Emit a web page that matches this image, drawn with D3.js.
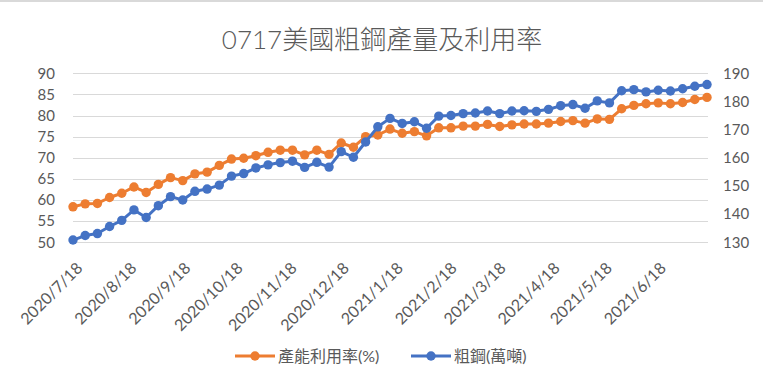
<!DOCTYPE html>
<html>
<head>
<meta charset="utf-8">
<script src="https://cdn.jsdelivr.net/npm/d3@7"></script>
<style>
  body { margin: 0; background: #fff; }
  svg { display: block; font-family: Lato, "Noto Sans CJK TC", sans-serif; }
</style>
</head>
<body>
<svg id="chart" width="763" height="385"></svg>
<script>
// weekly dates (categories)
var dates = ['2020/7/18','2020/7/25','2020/8/1','2020/8/8','2020/8/15','2020/8/22','2020/8/29',
  '2020/9/5','2020/9/12','2020/9/19','2020/9/26','2020/10/3','2020/10/10','2020/10/17','2020/10/24',
  '2020/10/31','2020/11/7','2020/11/14','2020/11/21','2020/11/28','2020/12/5','2020/12/12','2020/12/19',
  '2020/12/26','2021/1/2','2021/1/9','2021/1/16','2021/1/23','2021/1/30','2021/2/6','2021/2/13',
  '2021/2/20','2021/2/27','2021/3/6','2021/3/13','2021/3/20','2021/3/27','2021/4/3','2021/4/10',
  '2021/4/17','2021/4/24','2021/5/1','2021/5/8','2021/5/15','2021/5/22','2021/5/29','2021/6/5',
  '2021/6/12','2021/6/19','2021/6/26','2021/7/3','2021/7/10','2021/7/17'];

// 產能利用率(%) - left axis
var utilization = [58.4, 59.1, 59.2, 60.6, 61.6, 63.1, 61.8, 63.7, 65.3, 64.6,
  66.2, 66.6, 68.2, 69.7, 69.9, 70.5, 71.3, 71.8, 71.8, 70.7,
  71.8, 70.8, 73.5, 72.5, 75.0, 75.4, 76.8, 75.8, 76.2, 75.2,
  77.1, 77.1, 77.5, 77.5, 77.9, 77.4, 77.8, 78.0, 78.0, 78.2,
  78.6, 78.8, 78.2, 79.2, 79.1, 81.6, 82.4, 82.8, 83.0, 82.8,
  83.1, 83.8, 84.3];

// 粗鋼(萬噸) - right axis
var steel = [130.8, 132.4, 133.1, 135.6, 137.8, 141.5, 138.8, 143.0, 146.2, 145.0,
  148.1, 148.9, 150.3, 153.5, 154.4, 156.4, 157.5, 158.3, 158.8, 156.6,
  158.4, 156.7, 162.2, 160.2, 165.6, 171.0, 174.0, 172.2, 172.8, 170.5,
  174.8, 175.0, 175.7, 175.9, 176.6, 175.7, 176.6, 176.7, 176.5, 177.2,
  178.5, 178.9, 177.6, 180.2, 179.5, 183.8, 184.2, 183.4, 184.0, 183.7,
  184.5, 185.4, 186.0];

var tickLabels = ['2020/7/18','2020/8/18','2020/9/18','2020/10/18','2020/11/18','2020/12/18',
  '2021/1/18','2021/2/18','2021/3/18','2021/4/18','2021/5/18','2021/6/18'];
var leftTicks = [50, 55, 60, 65, 70, 75, 80, 85, 90];
var rightTicks = [130, 140, 150, 160, 170, 180, 190];

var parse = d3.timeParse('%Y/%m/%d');
var svg = d3.select('#chart');
var textColor = '#595959';
var orange = '#ED7D31', blue = '#4472C4';

var plotLeft = 73, plotRight = 708, plotTop = 73.3, plotBottom = 242.3;

var x = d3.scaleTime()
  .domain([parse(dates[0]), parse(dates[dates.length - 1])])
  .range([plotLeft, plotRight - 1]);
var yL = d3.scaleLinear().domain([50, 90]).range([plotBottom, plotTop]);
var yR = d3.scaleLinear().domain([130, 190]).range([plotBottom, plotTop]);

// top border of chart area
svg.append('line')
  .attr('x1', 0).attr('x2', 763).attr('y1', 1).attr('y2', 1)
  .attr('stroke', '#d9d9d9').attr('stroke-width', 2);

svg.append('text')
  .attr('x', 382).attr('y', 49)
  .attr('text-anchor', 'middle')
  .attr('fill', textColor)
  .style('font-size', '26px')
  .style('font-weight', 300)
  .text('0717美國粗鋼產量及利用率');

// gridlines
svg.append('g').selectAll('line')
  .data(leftTicks)
  .join('line')
  .attr('x1', plotLeft).attr('x2', plotRight)
  .attr('y1', function(d){ return Math.round(yL(d)) + 0.5; })
  .attr('y2', function(d){ return Math.round(yL(d)) + 0.5; })
  .attr('stroke', '#d9d9d9').attr('stroke-width', 1);

// left axis
var gL = svg.append('g')
  .attr('transform', 'translate(' + (plotLeft - 18) + ',0)')
  .call(d3.axisLeft(yL).tickValues(leftTicks).tickSize(0).tickPadding(0));
gL.select('.domain').remove();
gL.selectAll('text').attr('fill', textColor).style('font-size', '15px');
gL.attr('font-family', null).attr('font-size', null);

// right axis
var gR = svg.append('g')
  .attr('transform', 'translate(' + (plotRight + 15) + ',0)')
  .call(d3.axisRight(yR).tickValues(rightTicks).tickSize(0).tickPadding(0));
gR.select('.domain').remove();
gR.selectAll('text').attr('fill', textColor).style('font-size', '15px');
gR.attr('font-family', null).attr('font-size', null);

// x axis (monthly ticks, rotated)
var gX = svg.append('g')
  .attr('transform', 'translate(0,' + plotBottom + ')')
  .call(d3.axisBottom(x)
    .tickValues(tickLabels.map(parse))
    .tickFormat(d3.timeFormat('%Y/%-m/%-d'))
    .tickSize(0));
gX.select('.domain').remove();
gX.attr('font-family', null).attr('font-size', null);
gX.selectAll('text')
  .attr('fill', textColor)
  .style('font-size', '16px')
  .attr('text-anchor', 'end')
  .attr('y', 0).attr('dy', '0.35em')
  .attr('transform', 'translate(6,23) rotate(-45)');

var series = [
  { name: '產能利用率(%)', values: utilization, y: yL, color: orange },
  { name: '粗鋼(萬噸)', values: steel, y: yR, color: blue }
];

series.forEach(function(s){
  var pts = s.values.map(function(v, i){ return { date: parse(dates[i]), val: v }; });
  var line = d3.line()
    .x(function(d){ return x(d.date); })
    .y(function(d){ return s.y(d.val); });
  svg.append('path')
    .datum(pts)
    .attr('fill', 'none')
    .attr('stroke', s.color)
    .attr('stroke-width', 3)
    .attr('stroke-linejoin', 'round')
    .attr('d', line);
  svg.append('g').selectAll('circle')
    .data(pts)
    .join('circle')
    .attr('cx', function(d){ return x(d.date); })
    .attr('cy', function(d){ return s.y(d.val); })
    .attr('r', 4.7)
    .attr('fill', s.color);
});

// legend
var legendX = [235, 411];
var lg = svg.append('g').selectAll('g')
  .data(series)
  .join('g')
  .attr('transform', function(d, i){ return 'translate(' + legendX[i] + ',356)'; });
lg.append('line')
  .attr('x1', 0).attr('x2', 40)
  .attr('stroke', function(d){ return d.color; })
  .attr('stroke-width', 3);
lg.append('circle')
  .attr('cx', 20).attr('r', 4.7)
  .attr('fill', function(d){ return d.color; });
lg.append('text')
  .attr('x', 43).attr('dy', '0.35em')
  .attr('fill', textColor)
  .style('font-size', '16px')
  .text(function(d){ return d.name; });
</script>
</body>
</html>
